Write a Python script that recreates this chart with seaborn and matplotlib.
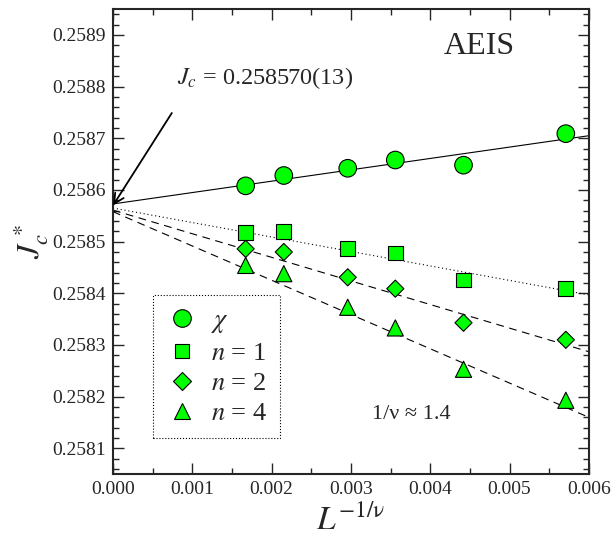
import numpy as np
import pandas as pd
import matplotlib
matplotlib.use("Agg")
import matplotlib.pyplot as plt
from matplotlib.lines import Line2D
from matplotlib.ticker import MultipleLocator, FormatStrFormatter
import seaborn as sns

# ---------------- data ----------------
x_vals = [0.001673, 0.002154, 0.00296, 0.00356, 0.00442, 0.00571]
chi_vals = [0.258608, 0.258628, 0.258642, 0.258658, 0.258648, 0.258709]
n1_vals = [0.258518, 0.258519, 0.258487, 0.258478, 0.258426, 0.258409]
n2_vals = [0.258486, 0.258480, 0.258431, 0.258409, 0.258343, 0.258310]
n4_vals = [0.258454, 0.258438, 0.258373, 0.258333, 0.258253, 0.258193]

series_names = ["chi", "n1", "n2", "n4"]
legend_labels = [r"$\chi$", "$n$ = 1", "$n$ = 2", "$n$ = 4"]
fit_intercepts = [0.258573, 0.258565, 0.258561, 0.258558]
fit_slopes = [0.0220, -0.0280, -0.04567, -0.06633]
fit_x = [0.0, 0.006]

jc_value = 0.258570
jc_text = "$J_c$ = 0.258570(13)"
model_text = "AEIS"
nu_text = "1/ν ≈ 1.4"

# ---------------- style ----------------
sns.set_style("ticks")
plt.rcParams["font.family"] = ["Liberation Serif", "DejaVu Serif"]
plt.rcParams["mathtext.fontset"] = "stix"

points = pd.DataFrame({
    "x": x_vals * 4,
    "y": chi_vals + n1_vals + n2_vals + n4_vals,
    "series": sum([[s] * len(x_vals) for s in series_names], []),
})
lines = pd.DataFrame({
    "x": fit_x * 4,
    "y": [b + m * xx for b, m in zip(fit_intercepts, fit_slopes) for xx in fit_x],
    "series": sum([[s] * len(fit_x) for s in series_names], []),
})

markers = {"chi": "o", "n1": "s", "n2": "D", "n4": "^"}
sizes = {"chi": 160, "n1": 112, "n2": 76, "n4": 135}
dashes = {"chi": "", "n1": (1, 2.5), "n2": (7, 5), "n4": (7, 5)}
green = "#00ff00"

fig = plt.figure(figsize=(6.14, 5.37), dpi=100)
ax = fig.add_axes([0.184, 0.117, 0.959 - 0.184, 0.983 - 0.117])

sns.lineplot(data=lines, x="x", y="y", style="series", dashes=dashes,
             color="black", linewidth=0.8, legend=False, ax=ax)
sns.scatterplot(data=points, x="x", y="y", style="series", markers=markers,
                size="series", sizes=sizes, color=green, edgecolor="black",
                linewidth=0.8, legend=False, ax=ax, zorder=3)

ax.set_xlim(0.0, 0.006)
ax.set_ylim(0.25805, 0.25895)

ax.xaxis.set_major_locator(MultipleLocator(0.001))
ax.xaxis.set_minor_locator(MultipleLocator(0.0005))
ax.yaxis.set_major_locator(MultipleLocator(0.0001))
ax.yaxis.set_minor_locator(MultipleLocator(0.00002))
ax.xaxis.set_major_formatter(FormatStrFormatter("%.3f"))
ax.yaxis.set_major_formatter(FormatStrFormatter("%.4f"))
ax.tick_params(which="both", direction="in", top=True, right=True,
               labelsize=14, width=1.0, pad=5)
ax.tick_params(which="major", length=8)
ax.tick_params(which="minor", length=4)
for sp in ax.spines.values():
    sp.set_linewidth(1.5)

ax.set_xlabel(r"$L^{-1/\mathrm{\nu}}$", fontsize=24, labelpad=5)
ax.set_ylabel(r"$J_c^{\,*}$", fontsize=23, labelpad=2)

ax.text(0.00081, 0.258817, jc_text, fontsize=17.5, va="center", ha="left")
ax.annotate("", xy=(0.0, jc_value), xytext=(0.000742, 0.258749),
            arrowprops=dict(arrowstyle="->", color="black", lw=1.3,
                            shrinkA=0, shrinkB=0, mutation_scale=18))
ax.text(0.00462, 0.258877, model_text, fontsize=23, ha="center", va="center")
ax.text(0.00376, 0.258165, nu_text, fontsize=16, ha="center", va="center")

handles = [Line2D([], [], linestyle="none", marker=markers[s],
                  markersize=np.sqrt(sizes[s]), markerfacecolor=green,
                  markeredgecolor="black", markeredgewidth=0.8)
           for s in series_names]
leg = ax.legend(handles, legend_labels, loc="lower left",
                bbox_to_anchor=(0.084, 0.077), borderaxespad=0,
                fontsize=19, frameon=True, fancybox=False,
                handletextpad=0.5, labelspacing=0.25, borderpad=0.5,
                handlelength=1.2)
frame = leg.get_frame()
frame.set_linestyle(":")
frame.set_edgecolor("black")
frame.set_linewidth(0.8)
frame.set_alpha(1)

fig.savefig("out.png", dpi=100)
